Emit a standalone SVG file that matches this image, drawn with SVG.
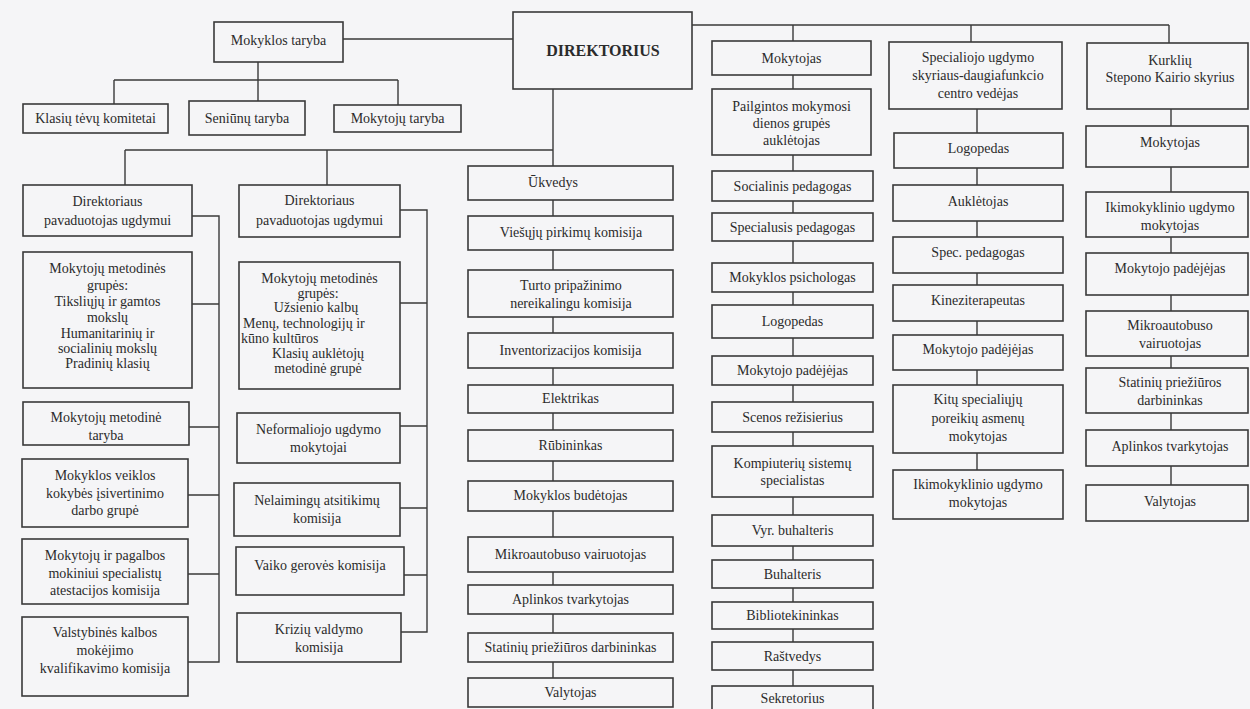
<svg xmlns="http://www.w3.org/2000/svg" width="1250" height="709" viewBox="0 0 1250 709">
<style>
.bg{fill:#f5f5f7}
.box{fill:none;stroke:#3a3a3a;stroke-width:1.6}
.c{fill:none;stroke:#3a3a3a;stroke-width:1.4}
.t{font-family:"Liberation Serif","Times New Roman",serif;font-size:14px;fill:#2b2b2b;text-anchor:middle}
.s{text-anchor:start}
.b{font-weight:bold;font-size:16px}
</style>
<rect class="bg" x="0" y="0" width="1250" height="709"/>
<g id="connectors">
<path class="c" d="M343 39H513M258 62V80M114 80H398M114 80V104M258 80V101M398 80V105"/>
<path class="c" d="M692 25H1169M793 25V41M971 25V42M1169 25V43"/>
<path class="c" d="M553 89V166M125 150H553M125 150V185M327 150V185"/>
<path class="c" d="M553 200V216M553 250V270M553 317V333M553 368V385M553 413V430M553 461V481M553 511V537M553 572V585M553 614V633M553 662V678"/>
<path class="c" d="M793 75V89M793 155V171M793 201V213M793 241V263M793 292V305M793 338V356M793 385V402M793 432V446M793 497V515M793 546V560M793 588V602M793 629V642M793 670V686"/>
<path class="c" d="M977 109V133M977 168V185M977 221V237M977 273V285M977 321V335M977 370V385M977 453V470"/>
<path class="c" d="M1171 109V126M1171 167V192M1171 237V253M1171 295V311M1171 356V368M1171 413V430M1171 466V485"/>
<path class="c" d="M192 216H219V662H188M192 304H219M189 427H219M188 495H219M188 574H219"/>
<path class="c" d="M400 210H427V632H401M400 303H427M400 426H427M400 508H427M404 575H427"/>
</g>
<g id="n_mokyklos_taryba"><rect class="box" x="214" y="22" width="129" height="40"/><text class="t" x="278.5" y="45">Mokyklos taryba</text></g>
<g id="n_klasiu_tevu"><rect class="box" x="23" y="104" width="145" height="29"/><text class="t" x="95.5" y="123">Klasių tėvų komitetai</text></g>
<g id="n_seniunu"><rect class="box" x="189" y="101" width="116" height="34"/><text class="t" x="247" y="123">Seniūnų taryba</text></g>
<g id="n_mokytoju_taryba"><rect class="box" x="334" y="105" width="127" height="27"/><text class="t" x="397.5" y="123">Mokytojų taryba</text></g>
<g id="n_direktorius"><rect class="box" x="513" y="12" width="179" height="77"/><text class="t b" x="603" y="56">DIREKTORIUS</text></g>

<g id="n_pav1"><rect class="box" x="23" y="185" width="169" height="51"/><text class="t" x="107.5" y="206">Direktoriaus</text><text class="t" x="107.5" y="225">pavaduotojas ugdymui</text></g>
<g id="n_grupes1"><rect class="box" x="23" y="252" width="169" height="136"/>
<text class="t" x="107.5" y="273">Mokytojų metodinės</text><text class="t" x="107.5" y="290">grupės:</text><text class="t" x="107.5" y="306">Tiksliųjų ir gamtos</text><text class="t" x="107.5" y="322">mokslų</text><text class="t" x="107.5" y="338">Humanitarinių ir</text><text class="t" x="107.5" y="353">socialinių mokslų</text><text class="t" x="107.5" y="368">Pradinių klasių</text></g>
<g id="n_metodine_taryba"><rect class="box" x="23" y="402" width="166" height="43"/><text class="t" x="106" y="422">Mokytojų metodinė</text><text class="t" x="106" y="440">taryba</text></g>
<g id="n_veiklos"><rect class="box" x="22" y="459" width="166" height="68"/><text class="t" x="105" y="480">Mokyklos veiklos</text><text class="t" x="105" y="498">kokybės įsivertinimo</text><text class="t" x="105" y="515">darbo grupė</text></g>
<g id="n_atestacijos"><rect class="box" x="22" y="539" width="166" height="65"/><text class="t" x="105" y="560">Mokytojų ir pagalbos</text><text class="t" x="105" y="578">mokiniui specialistų</text><text class="t" x="105" y="595">atestacijos komisija</text></g>
<g id="n_valstybines"><rect class="box" x="22" y="617" width="166" height="79"/><text class="t" x="105" y="637">Valstybinės kalbos</text><text class="t" x="105" y="655">mokėjimo</text><text class="t" x="105" y="673">kvalifikavimo komisija</text></g>

<g id="n_pav2"><rect class="box" x="239" y="185" width="161" height="52"/><text class="t" x="319.5" y="205">Direktoriaus</text><text class="t" x="319.5" y="225">pavaduotojas ugdymui</text></g>
<g id="n_grupes2"><rect class="box" x="239" y="262" width="161" height="127"/>
<text class="t" x="319.5" y="283">Mokytojų metodinės</text><text class="t" x="318" y="298">grupės:</text><text class="t" x="316" y="312">Užsienio kalbų</text><text class="t s" x="243" y="328">Menų, technologijų ir</text><text class="t s" x="241" y="343">kūno kultūros</text><text class="t" x="318" y="358">Klasių auklėtojų</text><text class="t" x="318" y="373">metodinė grupė</text></g>
<g id="n_neformaliojo"><rect class="box" x="237" y="413" width="163" height="50"/><text class="t" x="318.5" y="434">Neformaliojo ugdymo</text><text class="t" x="318.5" y="452">mokytojai</text></g>
<g id="n_nelaimingu"><rect class="box" x="234" y="483" width="166" height="53"/><text class="t" x="317" y="505">Nelaimingų atsitikimų</text><text class="t" x="317" y="523">komisija</text></g>
<g id="n_vaiko"><rect class="box" x="236" y="547" width="168" height="48"/><text class="t" x="320" y="570">Vaiko gerovės komisija</text></g>
<g id="n_kriziu"><rect class="box" x="237" y="613" width="164" height="49"/><text class="t" x="319" y="634">Krizių valdymo</text><text class="t" x="319" y="652">komisija</text></g>

<g id="n_ukvedys"><rect class="box" x="468" y="166" width="205" height="34"/><text class="t" x="553" y="187">Ūkvedys</text></g>
<g id="n_viesuju"><rect class="box" x="468" y="216" width="205" height="34"/><text class="t" x="571" y="237">Viešųjų pirkimų komisija</text></g>
<g id="n_turto"><rect class="box" x="468" y="270" width="205" height="47"/><text class="t" x="571" y="290">Turto pripažinimo</text><text class="t" x="571" y="308">nereikalingu komisija</text></g>
<g id="n_inventorizacijos"><rect class="box" x="468" y="333" width="205" height="35"/><text class="t" x="570.5" y="355">Inventorizacijos komisija</text></g>
<g id="n_elektrikas"><rect class="box" x="468" y="385" width="205" height="28"/><text class="t" x="570.5" y="403">Elektrikas</text></g>
<g id="n_rubininkas"><rect class="box" x="468" y="430" width="205" height="31"/><text class="t" x="570.5" y="450">Rūbininkas</text></g>
<g id="n_budetojas"><rect class="box" x="468" y="481" width="205" height="30"/><text class="t" x="570.5" y="500">Mokyklos budėtojas</text></g>
<g id="n_mikro1"><rect class="box" x="468" y="537" width="205" height="35"/><text class="t" x="570.5" y="559">Mikroautobuso vairuotojas</text></g>
<g id="n_aplinkos1"><rect class="box" x="468" y="585" width="205" height="29"/><text class="t" x="570.5" y="604">Aplinkos tvarkytojas</text></g>
<g id="n_statiniu1"><rect class="box" x="468" y="633" width="205" height="29"/><text class="t" x="570.5" y="652">Statinių priežiūros darbininkas</text></g>
<g id="n_valytojas1"><rect class="box" x="468" y="678" width="205" height="29"/><text class="t" x="570.5" y="697">Valytojas</text></g>

<g id="n_mokytojas1"><rect class="box" x="712" y="41" width="159" height="34"/><text class="t" x="791.5" y="63">Mokytojas</text></g>
<g id="n_pailgintos"><rect class="box" x="712" y="89" width="159" height="66"/><text class="t" x="791.5" y="111">Pailgintos mokymosi</text><text class="t" x="791.5" y="128">dienos grupės</text><text class="t" x="791.5" y="145">auklėtojas</text></g>
<g id="n_socialinis"><rect class="box" x="712" y="171" width="161" height="30"/><text class="t" x="792.5" y="191">Socialinis pedagogas</text></g>
<g id="n_specialusis"><rect class="box" x="712" y="213" width="161" height="28"/><text class="t" x="792.5" y="232">Specialusis pedagogas</text></g>
<g id="n_psichologas"><rect class="box" x="712" y="263" width="161" height="29"/><text class="t" x="792.5" y="282">Mokyklos psichologas</text></g>
<g id="n_logopedas1"><rect class="box" x="712" y="305" width="161" height="33"/><text class="t" x="792.5" y="326">Logopedas</text></g>
<g id="n_padejejas1"><rect class="box" x="712" y="356" width="161" height="29"/><text class="t" x="792.5" y="375">Mokytojo padėjėjas</text></g>
<g id="n_scenos"><rect class="box" x="712" y="402" width="161" height="30"/><text class="t" x="792.5" y="422">Scenos režisierius</text></g>
<g id="n_kompiuteriu"><rect class="box" x="712" y="446" width="161" height="51"/><text class="t" x="792.5" y="468">Kompiuterių sistemų</text><text class="t" x="792.5" y="485">specialistas</text></g>
<g id="n_vyr_buhalteris"><rect class="box" x="712" y="515" width="161" height="31"/><text class="t" x="792.5" y="535">Vyr. buhalteris</text></g>
<g id="n_buhalteris"><rect class="box" x="712" y="560" width="161" height="28"/><text class="t" x="792.5" y="579">Buhalteris</text></g>
<g id="n_bibliotekininkas"><rect class="box" x="712" y="602" width="161" height="27"/><text class="t" x="792.5" y="620">Bibliotekininkas</text></g>
<g id="n_rastvedys"><rect class="box" x="712" y="642" width="161" height="28"/><text class="t" x="792.5" y="661">Raštvedys</text></g>
<g id="n_sekretorius"><rect class="box" x="712" y="686" width="161" height="30"/><text class="t" x="792.5" y="703">Sekretorius</text></g>

<g id="n_specialiojo"><rect class="box" x="889" y="42" width="173" height="67"/><text class="t" x="978" y="62">Specialiojo ugdymo</text><text class="t" x="978" y="80">skyriaus-daugiafunkcio</text><text class="t" x="978" y="98">centro vedėjas</text></g>
<g id="n_logopedas2"><rect class="box" x="894" y="133" width="169" height="35"/><text class="t" x="978.5" y="153">Logopedas</text></g>
<g id="n_aukletojas"><rect class="box" x="893" y="185" width="170" height="36"/><text class="t" x="978" y="206">Auklėtojas</text></g>
<g id="n_spec_pedagogas"><rect class="box" x="893" y="237" width="170" height="36"/><text class="t" x="978" y="257">Spec. pedagogas</text></g>
<g id="n_kineziterapeutas"><rect class="box" x="893" y="285" width="170" height="36"/><text class="t" x="978" y="305">Kineziterapeutas</text></g>
<g id="n_padejejas2"><rect class="box" x="893" y="335" width="170" height="35"/><text class="t" x="978" y="354">Mokytojo padėjėjas</text></g>
<g id="n_kitu"><rect class="box" x="893" y="385" width="170" height="68"/><text class="t" x="978" y="404">Kitų specialiųjų</text><text class="t" x="978" y="423">poreikių asmenų</text><text class="t" x="978" y="441">mokytojas</text></g>
<g id="n_ikimokyklinio1"><rect class="box" x="893" y="470" width="170" height="49"/><text class="t" x="978" y="489">Ikimokyklinio ugdymo</text><text class="t" x="978" y="507">mokytojas</text></g>

<g id="n_kurkliu"><rect class="box" x="1087" y="43" width="161" height="66"/><text class="t" x="1170" y="65">Kurklių</text><text class="t" x="1170" y="82">Stepono Kairio skyrius</text></g>
<g id="n_mokytojas2"><rect class="box" x="1086" y="126" width="162" height="41"/><text class="t" x="1170" y="147">Mokytojas</text></g>
<g id="n_ikimokyklinio2"><rect class="box" x="1086" y="192" width="162" height="45"/><text class="t" x="1170" y="212">Ikimokyklinio ugdymo</text><text class="t" x="1170" y="230">mokytojas</text></g>
<g id="n_padejejas3"><rect class="box" x="1086" y="253" width="162" height="42"/><text class="t" x="1170" y="273">Mokytojo padėjėjas</text></g>
<g id="n_mikro2"><rect class="box" x="1086" y="311" width="162" height="45"/><text class="t" x="1170" y="330">Mikroautobuso</text><text class="t" x="1170" y="348">vairuotojas</text></g>
<g id="n_statiniu2"><rect class="box" x="1086" y="368" width="162" height="45"/><text class="t" x="1170" y="387">Statinių priežiūros</text><text class="t" x="1170" y="405">darbininkas</text></g>
<g id="n_aplinkos2"><rect class="box" x="1086" y="430" width="162" height="36"/><text class="t" x="1170" y="451">Aplinkos tvarkytojas</text></g>
<g id="n_valytojas2"><rect class="box" x="1086" y="485" width="162" height="36"/><text class="t" x="1170" y="506">Valytojas</text></g>
</svg>
